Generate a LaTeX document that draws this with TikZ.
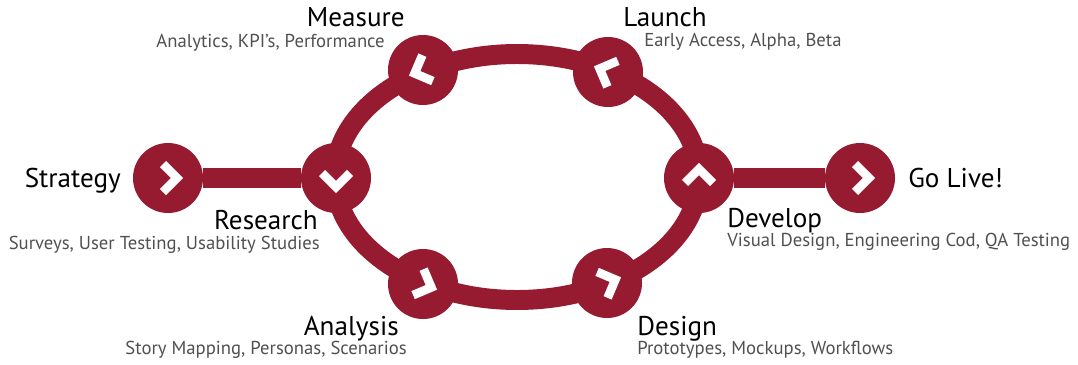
\documentclass[tikz,border=0pt]{standalone}
\usepackage{fontspec}
\setmainfont{PT Sans}
\usetikzlibrary{backgrounds}
\definecolor{wine}{RGB}{150,27,48}
\definecolor{subgray}{RGB}{80,80,80}

\begin{document}
\begin{tikzpicture}
[x=0.025cm, y=0.025cm,
stage/.style={circle, fill=wine, draw=none, inner sep=0 pt, minimum size=1.75 cm},
ring/.style={draw=wine, line width=14.2 pt},
chev/.style={draw=white, line width=6.2 pt, line join=miter},
head/.style={inner sep=0 pt, font=\fontsize{19.3}{21}\selectfont},
sub/.style={inner sep=0 pt, text=subgray, font=\fontsize{13.3}{15}\selectfont}
]

\useasboundingbox (0,0) rectangle (1078,364) ;

% stages
\foreach \n/\x/\y in {Strat/168/186, Res/336/186, Meas/423/294, Lau/608/292,
  Ana/423/80, Des/607/81, Dev/699/186, Go/860/186}
{\node[stage] (\n) at (\x,\y) {} ;}

\coordinate (O) at (517,187) ;

% loop and bars
\begin{scope}[on background layer]
\draw[ring] (O) ellipse [x radius=182, y radius=123] ;
\draw[ring] (Strat) -- (Res) ;
\draw[ring] (Dev) -- (Go) ;
\end{scope}

% chevrons
\foreach \n/\a in {Strat/0, Res/-90, Ana/-22, Des/22, Dev/90, Go/0, Lau/158, Meas/202}
{\draw[chev, shift={(\n)}, rotate=\a] (-5,14) -- (9,0) -- (-5,-14) ;}

% labels
\node[head, anchor=base east] (tStrat) at (121,177) {Strategy} ;
\node[head, anchor=base west] (tGo) at (908,177) {Go Live!} ;
\node[head, anchor=base east] (tRes) at (318,135) {Research} ;
\node[sub, anchor=base east] (sRes) at (320,115) {Surveys, User Testing, Usability Studies} ;
\node[head, anchor=base east] (tMeas) at (405,338) {Measure} ;
\node[sub, anchor=base east] (sMeas) at (385,317) {Analytics, KPI’s, Performance} ;
\node[head, anchor=base west] (tLau) at (623,338) {Launch} ;
\node[sub, anchor=base west] (sLau) at (644,318) {Early Access, Alpha, Beta} ;
\node[head, anchor=base west] (tDev) at (727,137) {Develop} ;
\node[sub, anchor=base west] (sDev) at (727,118) {Visual Design, Engineering Cod, QA Testing} ;
\node[head, anchor=base east] (tAna) at (399,29) {Analysis} ;
\node[sub, anchor=base east] (sAna) at (407,10) {Story Mapping, Personas, Scenarios} ;
\node[head, anchor=base west] (tDes) at (637,29) {Design} ;
\node[sub, anchor=base west] (sDes) at (637,10) {Prototypes, Mockups, Workflows} ;

\end{tikzpicture}
\end{document}
